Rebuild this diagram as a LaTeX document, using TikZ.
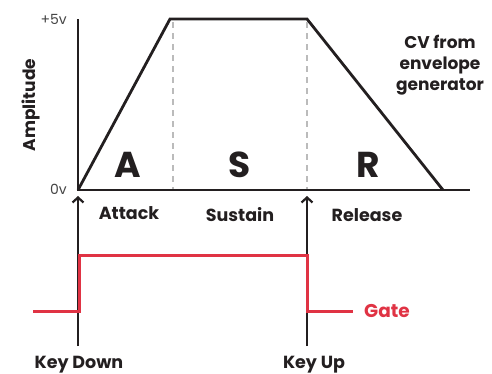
\documentclass[tikz,border=0pt]{standalone}
\usepackage{fontspec}
\setmainfont{Poppins}
\usetikzlibrary{arrows.meta}
\definecolor{ink}{HTML}{231F20}
\definecolor{gatered}{HTML}{E03344}
\definecolor{dashgray}{HTML}{BBBBBB}
\definecolor{lblgray}{HTML}{444444}
\begin{document}
\begin{tikzpicture}[x=1pt,y=-1pt,
  lbl/.style={font=\bfseries\fontsize{17.5}{17.5}\selectfont, text=ink, inner sep=0pt, anchor=base},
  big/.style={font=\bfseries\fontsize{36}{36}\selectfont, text=ink, inner sep=0pt, anchor=base},
  volt/.style={font=\fontsize{14}{14}\selectfont, text=lblgray, inner sep=0pt},
  env/.style={line width=2.8pt, ink, line join=miter},
  axis/.style={line width=1.6pt, ink},
  guide/.style={line width=1.2pt, dashgray, dash pattern=on 6pt off 5pt},
  keyarrow/.style={line width=2.2pt, ink, -{Straight Barb[length=5pt,width=11pt,line width=2.2pt]}},
  gate/.style={line width=3pt, gatered}]
\useasboundingbox (0,0) rectangle (492,373);
% axes
\coordinate (top) at (78,19);
\coordinate (origin) at (78,190);
\coordinate (xend) at (470,190);
\draw[axis] (top) -- (origin) -- (xend);
% envelope
\coordinate (peak1) at (170,19);
\coordinate (peak2) at (307,19);
\coordinate (rel) at (443,190);
\draw[env] (origin) -- (peak1) -- (peak2) -- (rel);
% guides
\coordinate (g1t) at (173,22);
\coordinate (g1b) at (173,189);
\coordinate (g2t) at (307,22);
\coordinate (g2b) at (307,189);
\draw[guide] (g1t) -- (g1b);
\draw[guide] (g2t) -- (g2b);
% voltage labels
\node[volt, anchor=east] (p5) at (67,19) {+5v};
\node[volt, anchor=east] (z0) at (67,189) {0v};
\node[lbl, anchor=center, rotate=90, font=\bfseries\fontsize{17}{17}\selectfont] (amp) at (31,105) {Amplitude};
% phase letters
\node[big] (A) at (128,177) {A};
\node[big] (S) at (240,177) {S};
\node[big] (R) at (368,177) {R};
\node[lbl, anchor=base, align=center, font=\bfseries\fontsize{17}{21.2}\selectfont] (cv) at (440,90.7) {CV from\\envelope\\generator};
% phase names
\node[lbl] (attack) at (129,219.5) {Attack};
\node[lbl] (sustain) at (240,221) {Sustain};
\node[lbl] (release) at (367,221.5) {Release};
% key arrows
\coordinate (kd0) at (78,346);
\coordinate (kd1) at (78,196);
\coordinate (ku0) at (307,346);
\coordinate (ku1) at (307,196);
\draw[keyarrow] (kd0) -- (kd1);
\draw[keyarrow] (ku0) -- (ku1);
\node[lbl] (keydown) at (79,368) {Key Down};
\node[lbl] (keyup) at (314,368) {Key Up};
% gate
\coordinate (ga) at (33,311);
\coordinate (gb) at (79,311);
\coordinate (gc) at (79,255);
\coordinate (gd) at (307,255);
\coordinate (ge) at (307,311);
\coordinate (gf) at (353,311);
\draw[gate] (ga) -- (gb) -- (gc) -- (gd) -- (ge) -- (gf);
\node[lbl, text=gatered, anchor=base west, font=\bfseries\fontsize{18.5}{18.5}\selectfont] (gatelbl) at (364,317) {Gate};
\end{tikzpicture}
\end{document}
